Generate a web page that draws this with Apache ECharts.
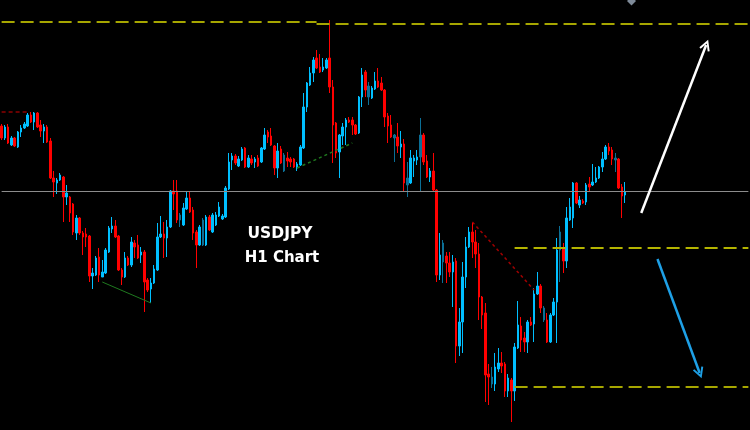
<!DOCTYPE html>
<html><head><meta charset="utf-8">
<script src="https://cdn.jsdelivr.net/npm/echarts@6/dist/echarts.min.js"></script>
<style>html,body{margin:0;padding:0;background:#000}#c{width:750px;height:430px}</style>
</head><body><div id="c"></div>
<script>
// USDJPY H1 candles (prices)
const open = [111.74,111.62,111.73,111.55,111.62,111.53,111.68,111.72,111.74,111.85,
111.78,111.87,111.75,111.69,111.73,111.59,111.22,111.17,111.20,111.23,
111.03,111.03,110.96,110.67,110.82,110.67,110.66,110.64,110.24,110.25,
110.43,110.23,110.27,110.48,110.71,110.74,110.64,110.30,110.23,110.42,
110.35,110.57,110.55,110.45,110.48,110.20,110.11,110.17,110.30,110.63,
110.66,110.62,110.73,111.09,111.09,110.85,110.75,110.91,111.02,110.90,
110.68,110.55,110.55,110.55,110.83,110.68,110.75,110.84,110.81,110.83,
111.11,111.40,111.44,111.34,111.40,111.52,111.33,111.41,111.38,111.42,
111.38,111.51,111.68,111.64,111.54,111.32,111.51,111.29,111.42,111.41,
111.41,111.32,111.35,111.52,111.93,112.15,112.27,112.42,112.33,112.30,
112.32,112.42,112.13,111.77,111.48,111.64,111.73,111.80,111.80,111.75,
111.67,112.03,112.28,112.14,112.02,112.11,112.19,112.17,112.10,111.84,
111.75,111.65,111.63,111.53,111.56,111.15,111.17,111.39,111.40,111.43,
111.65,111.39,111.23,111.29,111.10,110.25,110.57,110.44,110.37,110.28,
110.39,109.54,109.78,110.23,110.53,110.68,110.58,110.46,110.03,109.87,
109.26,109.23,109.16,109.31,109.37,109.36,109.09,109.20,109.09,109.52,
109.74,109.62,109.58,109.78,109.76,110.06,110.14,109.92,109.80,109.58,
109.85,109.98,110.50,110.52,110.39,110.80,110.82,111.17,110.95,110.99,
110.98,111.16,111.15,111.18,111.22,111.33,111.41,111.53,111.50,111.40,
111.41,111.13,111.05];
const close = [111.62,111.73,111.57,111.62,111.54,111.68,111.72,111.76,111.85,111.78,
111.87,111.73,111.69,111.73,111.58,111.22,111.18,111.20,111.25,111.03,
111.07,110.87,110.68,110.82,110.67,110.63,110.63,110.24,110.27,110.42,
110.25,110.28,110.50,110.72,110.74,110.63,110.30,110.23,110.42,110.35,
110.58,110.53,110.42,110.48,110.18,110.10,110.17,110.31,110.63,110.66,
110.62,110.73,111.09,111.06,110.80,110.80,110.92,111.02,110.88,110.67,
110.55,110.73,110.80,110.83,110.70,110.85,110.85,110.93,110.84,111.12,
111.38,111.44,111.37,111.41,111.51,111.33,111.42,111.37,111.41,111.34,
111.52,111.65,111.63,111.55,111.32,111.49,111.37,111.45,111.39,111.38,
111.33,111.36,111.53,111.93,112.17,112.27,112.40,112.32,112.28,112.33,
112.40,112.13,111.75,111.47,111.65,111.73,111.80,111.78,111.75,111.66,
112.03,112.25,112.10,112.03,112.12,112.19,112.13,112.10,111.83,111.74,
111.63,111.62,111.54,111.56,111.17,111.22,111.42,111.42,111.43,111.65,
111.38,111.23,111.29,111.10,110.25,110.45,110.38,110.37,110.28,110.38,
109.54,109.78,110.23,110.53,110.68,110.58,110.46,110.03,109.85,109.25,
109.23,109.16,109.33,109.37,109.34,109.09,109.22,109.09,109.53,109.75,
109.60,109.58,109.78,109.75,110.06,110.14,109.92,109.80,109.58,109.85,
109.98,110.50,110.68,110.39,110.82,110.93,111.17,110.97,111.00,110.97,
111.15,111.13,111.18,111.22,111.33,111.41,111.53,111.49,111.41,111.42,
111.12,111.04,111.08];
const low = [111.60,111.60,111.56,111.54,111.53,111.52,111.63,111.71,111.73,111.77,
111.70,111.72,111.63,111.57,111.57,111.21,111.03,111.06,111.19,110.78,
110.95,110.78,110.65,110.60,110.65,110.45,110.53,110.18,110.11,110.24,
110.18,110.23,110.26,110.47,110.67,110.62,110.29,110.15,110.22,110.34,
110.33,110.42,110.41,110.37,109.88,110.08,109.97,110.16,110.29,110.62,
110.42,110.43,110.72,110.90,110.77,110.73,110.74,110.90,110.87,110.60,
110.32,110.54,110.54,110.54,110.69,110.67,110.74,110.83,110.80,110.82,
111.10,111.30,111.35,111.33,111.39,111.32,111.32,111.35,111.32,111.33,
111.37,111.50,111.57,111.54,111.25,111.22,111.36,111.28,111.33,111.33,
111.32,111.29,111.34,111.51,111.88,112.14,112.18,112.31,112.27,112.28,
112.31,112.07,111.37,111.42,111.22,111.55,111.55,111.77,111.65,111.65,
111.66,111.93,112.03,111.95,112.01,112.10,112.12,112.09,111.73,111.57,
111.62,111.38,111.47,111.42,111.08,111.03,111.16,111.23,111.35,111.08,
111.35,111.22,111.18,111.09,110.18,110.20,110.17,110.17,110.23,109.93,
109.37,109.44,109.47,110.12,110.52,110.42,110.32,109.80,109.71,108.98,
108.95,109.12,109.09,109.28,109.27,109.03,109.03,108.78,108.99,109.51,
109.48,109.48,109.47,109.74,109.58,110.05,109.87,109.78,109.57,109.57,
109.84,109.57,110.18,110.27,110.32,110.79,110.72,110.96,110.92,110.96,
110.95,111.08,111.14,111.17,111.21,111.28,111.40,111.45,111.35,111.28,
111.11,110.82,110.97];
const high = [111.76,111.75,111.76,111.64,111.63,111.69,111.75,111.78,111.87,111.88,
111.88,111.88,111.80,111.76,111.75,111.62,111.29,111.22,111.27,111.24,
111.15,111.04,110.97,110.85,110.83,110.69,110.72,110.65,110.32,110.44,
110.52,110.40,110.52,110.74,110.83,110.80,110.65,110.32,110.48,110.44,
110.63,110.60,110.65,110.53,110.50,110.22,110.22,110.35,110.77,110.84,
110.78,110.80,111.10,111.20,111.20,110.87,110.97,111.08,111.08,110.93,
110.70,110.75,110.82,110.85,110.85,110.87,110.88,110.98,110.86,111.14,
111.47,111.47,111.46,111.44,111.53,111.53,111.45,111.45,111.43,111.45,
111.53,111.72,111.70,111.72,111.55,111.57,111.54,111.47,111.48,111.43,
111.42,111.38,111.55,112.07,112.18,112.33,112.43,112.50,112.46,112.42,
112.42,112.80,112.20,111.78,111.66,111.77,111.82,111.83,111.83,111.76,
112.04,112.32,112.30,112.18,112.14,112.28,112.32,112.23,112.11,111.87,
111.85,111.66,111.77,111.69,111.61,111.38,111.50,111.45,111.50,111.82,
111.67,111.45,111.32,111.47,111.11,110.67,110.60,110.48,110.48,110.45,
110.42,109.92,110.38,110.63,110.73,110.77,110.70,110.57,110.04,109.97,
109.36,109.33,109.47,109.52,109.48,109.38,109.26,109.22,109.57,109.99,
109.83,109.68,109.80,109.83,110.12,110.28,110.16,109.94,109.87,109.87,
110.02,110.62,110.74,110.57,110.93,111.02,111.18,111.18,111.04,111.01,
111.17,111.23,111.36,111.33,111.34,111.48,111.55,111.57,111.53,111.47,
111.42,111.16,111.18];

// candles drawn faded in the original screenshot (0-based)
const fadedCandles = [55, 62, 87, 113, 121, 125, 129, 136, 151, 167, 172, 189];

// horizontal levels
const pivotLevel = 111.09;
const topLevelLeft = 112.78;
const topLevelRight = 112.76;
const midLevel = 110.52;
const lowLevel = 109.13;

const slots = 231; // hourly slots incl. empty space on the right
const hours = Array.from({length: slots}, (_, i) => String(i));

const candles = open.map((o, i) => {
  const v = [o, close[i], low[i], high[i]];
  if (fadedCandles.indexOf(i) >= 0) {
    return {value: v, itemStyle: {color: '#0b6f96', color0: '#960000', borderColor: '#0b6f96', borderColor0: '#960000'}};
  }
  return v;
});

const chevron = 'path://M5,0 L10,10 L8.4,10.9 L5,3.8 L1.6,10.9 L0,10 Z';
const dashYellow = {color: '#a6a600', width: 2, type: [13, 6]};

const chart = echarts.init(document.getElementById('c'), null, {renderer: 'canvas'});
chart.setOption({
  backgroundColor: '#000',
  animation: false,
  grid: {left: 0, right: 0, top: 0, bottom: 0},
  xAxis: {type: 'category', data: hours, show: false, boundaryGap: true},
  yAxis: {type: 'value', min: 108.70, max: 113.00, show: false},
  series: [{
    type: 'candlestick',
    data: candles,
    barWidth: 2,
    silent: true,
    itemStyle: {color: '#00bfff', color0: '#ff0000', borderColor: '#00bfff', borderColor0: '#ff0000', borderWidth: 1},
    markPoint: {
      silent: true,
      data: [{coord: [194, 112.99], symbol: 'diamond', symbolSize: [9, 9], itemStyle: {color: '#7e8a98'}, label: {show: false}}]
    },
    markLine: {
      silent: true,
      symbol: ['none', 'none'],
      label: {show: false},
      animation: false,
      data: [
        [{coord: [0, pivotLevel]}, {coord: [230, pivotLevel]}],
        [{coord: [0, topLevelLeft]}, {coord: [97, topLevelLeft]}],
        [{coord: [97, topLevelRight]}, {coord: [230, topLevelRight]}],
        [{coord: [158, midLevel]}, {coord: [230, midLevel]}],
        [{coord: [158, lowLevel]}, {coord: [230, lowLevel]}],
        [{coord: [0, 111.88]}, {coord: [8, 111.88]}],
        [{coord: [31, 110.18]}, {coord: [46, 109.97]}],
        [{coord: [91, 111.32]}, {coord: [108, 111.57]}],
        [{coord: [145, 110.78]}, {coord: [164, 110.10]}],
        [{coord: [197, 110.87]}, {coord: [217, 112.55], symbol: chevron, symbolSize: [11, 11]}],
        [{coord: [202, 110.41]}, {coord: [215, 109.27], symbol: chevron, symbolSize: [11, 11]}]
      ].map((d, k) => {
        const styles = [
          {color: '#8c8c8c', width: 1, type: 'solid'},
          dashYellow, dashYellow,
          {color: '#b4b400', width: 2, type: [13, 6]},
          dashYellow,
          {color: '#8b0000', width: 1.5, type: [4, 3]},
          {color: '#1f7a1f', width: 1, type: 'solid'},
          {color: '#1f7a1f', width: 1.5, type: [3, 3]},
          {color: '#a00000', width: 1.5, type: [3, 3]},
          {color: '#ffffff', width: 2.5, type: 'solid'},
          {color: '#1ea0e6', width: 2.5, type: 'solid'}
        ];
        d[0].lineStyle = styles[k];
        return d;
      })
    }
  }],
  graphic: [
    {type: 'text', silent: true, style: {text: 'USDJPY', x: 280, y: 234, align: 'center', verticalAlign: 'middle', fill: '#ffffff', font: 'bold 15.5px "DejaVu Sans", Verdana, sans-serif'}},
    {type: 'text', silent: true, style: {text: 'H1 Chart', x: 282, y: 258, align: 'center', verticalAlign: 'middle', fill: '#ffffff', font: 'bold 15px "DejaVu Sans", Verdana, sans-serif'}}
  ]
});
</script>
</body></html>
